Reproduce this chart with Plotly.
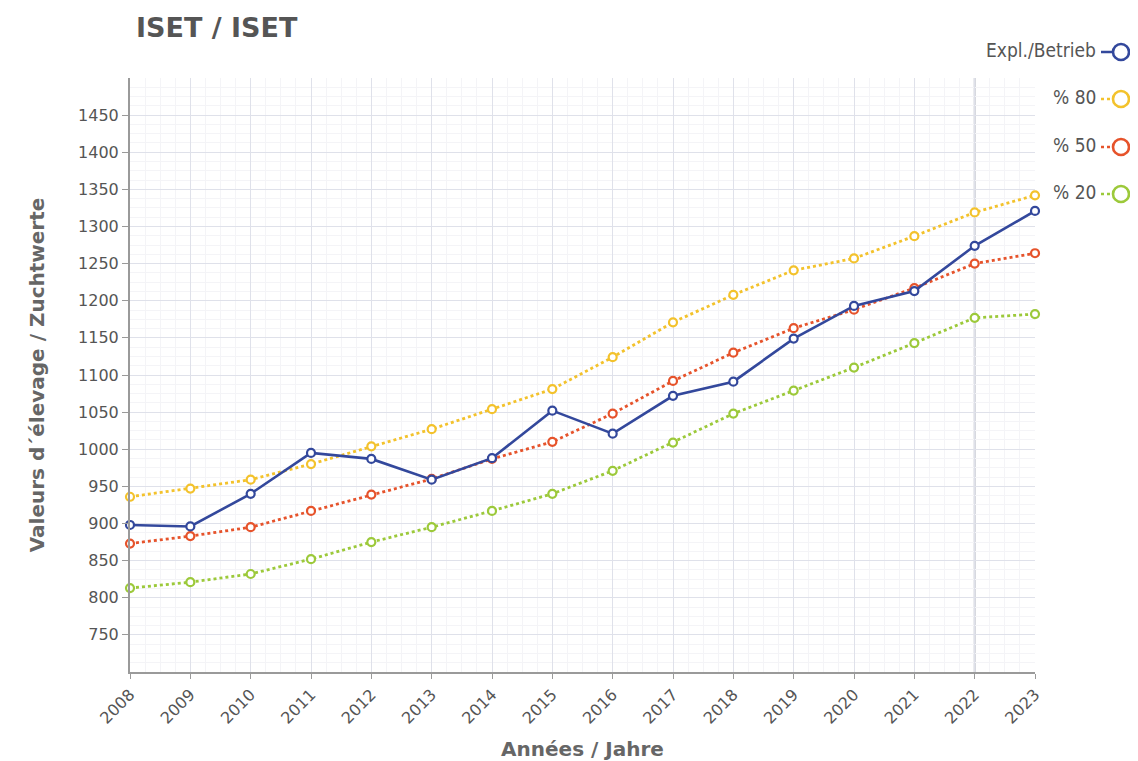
import plotly.graph_objects as go

years = list(range(2008, 2024))
betrieb = [898, 896, 940, 995, 987, 959, 988, 1052, 1021, 1072, 1091, 1149, 1193, 1213, 1274, 1321]
p80 = [936, 947, 959, 980, 1004, 1027, 1054, 1081, 1124, 1171, 1208, 1241, 1257, 1287, 1319, 1342]
p50 = [873, 883, 895, 917, 939, 960, 987, 1010, 1048, 1092, 1130, 1163, 1188, 1217, 1250, 1264]
p20 = [813, 821, 832, 852, 875, 895, 917, 940, 971, 1009, 1048, 1079, 1110, 1143, 1177, 1182]
y_ticks = list(range(750, 1451, 50))
series_names = ["Expl./Betrieb", "% 80", "% 50", "% 20"]

BLUE = "#33489c"
YELLOW = "#f3c22c"
RED = "#e6532b"
GREEN = "#9cc93a"

OFF = 8  # page body margin
W, H = 1130, 753
L, R, T, B = 130 - OFF, 103, 78 - OFF, 89
PW, PH = W - L - R, H - T - B

fig = go.Figure()
specs = [(p20, GREEN, "dot", series_names[3]),
         (p50, RED, "dot", series_names[2]),
         (p80, YELLOW, "dot", series_names[1]),
         (betrieb, BLUE, "solid", series_names[0])]
for vals, col, dash, name in specs:
    fig.add_trace(go.Scatter(
        x=years, y=vals, name=name, mode="lines+markers",
        line=dict(color=col, width=2.6 if dash == "solid" else 2.8, dash=dash),
        marker=dict(symbol="circle", size=8, color="white", line=dict(color=col, width=2.2)),
        showlegend=False, cliponaxis=False))

# vertical highlight line at 2022
fig.add_shape(type="line", xref="x", yref="paper", x0=2022, x1=2022, y0=0, y1=1,
              line=dict(color="#c4c6cf", width=2), layer="below")

def px2x(px):
    return (px - OFF - L) / PW

def py2y(py):
    return (H - B - (py - OFF)) / PH

leg_y = [50, 97, 145, 192]
leg_cols = [BLUE, YELLOW, RED, GREEN]
leg_dash = ["solid", "dot", "dot", "dot"]
for name, py, col, dash in zip(series_names, leg_y, leg_cols, leg_dash):
    fig.add_annotation(x=px2x(1098), y=py2y(py), xref="paper", yref="paper",
                       text=name, showarrow=False, xanchor="right", yanchor="middle",
                       font=dict(family="DejaVu Sans Condensed, DejaVu Sans", size=19, color="#555555"))
    fig.add_shape(type="line", xref="paper", yref="paper",
                  x0=px2x(1101), x1=px2x(1140), y0=py2y(py + 2), y1=py2y(py + 2),
                  line=dict(color=col, width=2.6, dash=dash))
    fig.add_shape(type="circle", xref="paper", yref="paper",
                  x0=px2x(1113), x1=px2x(1129), y0=py2y(py - 6), y1=py2y(py + 10),
                  line=dict(color=col, width=2.6), fillcolor="white")

fig.update_layout(
    width=W, height=H,
    margin=dict(l=L, r=R, t=T, b=B),
    paper_bgcolor="white", plot_bgcolor="white",
    font=dict(family="DejaVu Sans", size=16, color="#555555"),
    title=dict(text="<b>ISET / ISET</b>", xref="container", yref="container",
               x=(136 - OFF) / W, y=1 - (28 - OFF) / H, xanchor="left", yanchor="middle",
               font=dict(family="DejaVu Sans", size=27, color="#555555")),
    xaxis=dict(
        range=[2008, 2023], tickmode="array", tickvals=years, ticktext=[str(y) for y in years],
        tickangle=-45, tickfont=dict(size=16, color="#555555"), automargin=False,
        showgrid=True, gridcolor="#dfe1ea", gridwidth=1,
        minor=dict(showgrid=True, gridcolor="#f4f4f7", dtick=0.25),
        showline=True, linecolor="#9a9a9a", linewidth=2, ticks="outside", ticklen=5,
        tickcolor="#9a9a9a", zeroline=False,
        title=dict(text="<b>Années / Jahre</b>", font=dict(size=20, color="#666666"), standoff=22),
    ),
    yaxis=dict(
        range=[700, 1500], tickmode="array", tickvals=y_ticks, ticktext=[str(v) for v in y_ticks],
        tickfont=dict(size=16, color="#555555"), automargin=False,
        showgrid=True, gridcolor="#dfe1ea", gridwidth=1,
        minor=dict(showgrid=True, gridcolor="#f4f4f7", dtick=12.5),
        showline=True, linecolor="#9a9a9a", linewidth=2, ticks="outside", ticklen=6,
        tickcolor="#9a9a9a", zeroline=False,
        title=dict(text="<b>Valeurs d´élevage / Zuchtwerte</b>", font=dict(size=20, color="#666666"), standoff=28),
    ),
)

fig.write_html("out.html")
